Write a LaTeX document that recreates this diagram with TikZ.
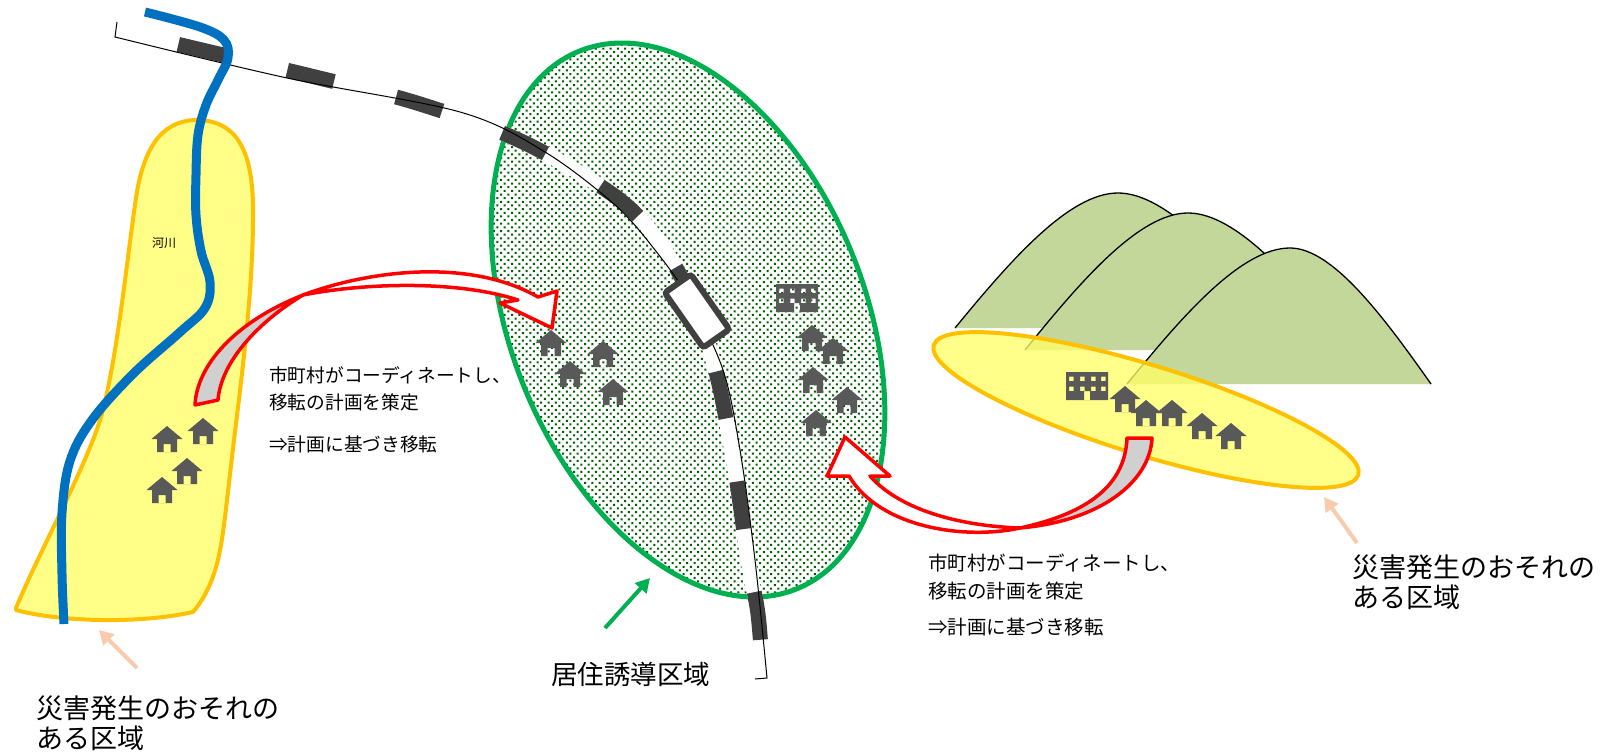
\documentclass[tikz,border=0pt]{standalone}
\usepackage{fontspec}
\setmainfont{Noto Sans CJK JP}
\usetikzlibrary{arrows.meta,patterns}

\definecolor{zonefill}{RGB}{255,255,136}
\definecolor{zonetint}{RGB}{255,255,102}
\definecolor{zoneline}{RGB}{255,192,0}
\definecolor{riverblue}{RGB}{0,112,192}
\definecolor{areagreen}{RGB}{0,176,80}
\definecolor{dotgreen}{RGB}{0,95,0}
\definecolor{railgray}{RGB}{64,64,64}
\definecolor{housegray}{RGB}{89,89,89}
\definecolor{hillgreen}{RGB}{196,215,155}
\definecolor{ribbongray}{RGB}{208,208,208}
\definecolor{pointerorange}{RGB}{248,203,173}

% fine dot screen for the residential area
\pgfdeclarepatternformonly{greendots}{\pgfqpoint{-1pt}{-1pt}}{\pgfqpoint{8pt}{8pt}}{\pgfqpoint{7.3pt}{7.3pt}}{%
  \pgfpathrectangle{\pgfqpoint{0pt}{0pt}}{\pgfqpoint{2pt}{2pt}}%
  \pgfpathrectangle{\pgfqpoint{3.65pt}{3.65pt}}{\pgfqpoint{2pt}{2pt}}%
  \pgfusepath{fill}}

\begin{document}
\begin{tikzpicture}[x=1pt, y=-1pt,
  zone/.style={fill=zonefill, draw=zoneline, line width=4pt, line join=round},
  ribbon/.style={draw=red, line width=3.5pt, line join=round},
  pointer/.style={line width=4pt, -{Triangle[length=14pt,width=15pt]}},
  railbed/.style={white, line width=15pt},
  railties/.style={railgray, line width=15pt, dash pattern=on 48pt off 64pt, dash phase=49pt},
  ridge/.style={draw=black, line width=1.3pt},
  note/.style={anchor=west, inner sep=0pt, font=\fontsize{18.7}{21}\selectfont},
  notewide/.style={anchor=west, inner sep=0pt, font=\fontsize{19.5}{22}\selectfont},
  risk/.style={anchor=west, inner sep=0pt, font=\fontsize{27}{30}\selectfont},
  house/.pic={
    \fill[housegray] (-15.5,13) -- (0,0) -- (15.5,13) -- cycle;
    \fill[housegray, even odd rule] (-10,12) rectangle (10,26) (-3.5,18) rectangle (3.5,26);
  },
  building/.pic={
    \fill[housegray, even odd rule] (0,0) rectangle (42,28)
      \foreach \wx/\wy in {3/4.5, 14/4.5, 25/4.5, 35/4.5, 3/14.5, 14/14.5, 25/14.5, 35/14.5} {(\wx,\wy) rectangle ++(4.5,4.5)}
      (18,19) rectangle (24,28);
  }]
  \useasboundingbox (0,0) rectangle (1608,754);

  % residential area
  \draw[pattern=greendots, pattern color=dotgreen, draw=areagreen, line width=5pt,
    rotate around={22:(688,320)}] (688,320) ellipse [x radius=177, y radius=290];

  % railway
  \foreach \look in {railbed, railties}
    \draw[\look] plot[smooth, tension=0.55] coordinates {(117,30) (311,76) (420,104) (525,143) (620,200) (666,252) (697,311) (718,380) (735,470) (748,560) (758,614) (763,679)};
  \draw[line width=1pt] (117,22) -- plot[smooth, tension=0.55] coordinates {(115,37) (287,78) (460,112) (545,152) (615,205) (655,250) (690,300) (723,370) (740,450) (755,560) (767,678)} -- (755,679);
  \node[draw=railgray, line width=6pt, fill=white, rounded corners=3pt,
    minimum width=67pt, minimum height=32pt, rotate=-55] (station) at (697,311) {};

  % hazard zone along the river
  \draw[zone] (16,608) .. controls (40,550) and (90,460) .. (103,410)
    .. controls (118,350) and (127,260) .. (135,205)
    .. controls (142,150) and (160,121) .. (196,120)
    .. controls (235,120) and (252,148) .. (253,205)
    .. controls (254,300) and (238,400) .. (228,492)
    .. controls (222,540) and (220,580) .. (193,612)
    .. controls (140,624) and (60,622) .. (16,610) -- cycle;
  \draw[riverblue, line width=9pt] plot[smooth, tension=0.6] coordinates {(145,12) (200,27) (224,40) (228,58) (218,80) (206,105) (198,135) (196,175) (196,215) (201,251) (210,282) (205,308) (179,333) (133,374) (92,420) (70,461) (62,513) (62,574) (64,624)};
  \node[inner sep=0pt, font=\fontsize{12}{14}\selectfont] (river) at (164,243) {河川};

  % houses
  \foreach \hx/\hy in {167/426, 203/418, 187/458, 162/477,
                       551/330, 570/361, 603/341, 613/379,
                       812/325, 833/338, 813/367, 847/387, 816/410}
    \pic at (\hx,\hy) {house};
  \pic at (776,284) {building};

  % hills
  \foreach \fx/\by/\px/\py/\rx in {955/328/1118/193/1281, 1025/350/1188/213/1351, 1127/384/1290/248/1431} {
    \fill[hillgreen] (\fx,\by) .. controls ({\fx+0.34*(\px-\fx)},{\by-0.5*(\by-\py)}) and ({\px-0.3*(\px-\fx)},\py) .. (\px,\py)
      .. controls ({\px+0.3*(\rx-\px)},\py) and ({\rx-0.34*(\rx-\px)},{\by-0.5*(\by-\py)}) .. (\rx,\by) -- cycle;
    \draw[ridge] (\fx,\by) .. controls ({\fx+0.34*(\px-\fx)},{\by-0.5*(\by-\py)}) and ({\px-0.3*(\px-\fx)},\py) .. (\px,\py)
      .. controls ({\px+0.3*(\rx-\px)},\py) and ({\rx-0.34*(\rx-\px)},{\by-0.5*(\by-\py)}) .. (\rx,\by);
  }

  % hazard zone at the foot of the hills
  \draw[zone, fill=zonetint, fill opacity=0.77, rotate around={-17:(1146,410)}] (1146,410) ellipse [x radius=222, y radius=45];
  \pic at (1066,372) {building};
  \foreach \hx/\hy in {1125/386, 1146/400, 1172/400, 1202/413, 1231/423}
    \pic at (\hx,\hy) {house};

  % relocation ribbons
  \filldraw[ribbon, fill=ribbongray] (195,405) .. controls (197,365) and (235,322) .. (303,295)
    .. controls (258,322) and (221,362) .. (218,400) -- cycle;
  \filldraw[ribbon, fill=white] (303,295) .. controls (370,270) and (470,258) .. (538,297)
    -- (557,291) -- (552,328) -- (500,303) -- (518,300)
    .. controls (460,281) and (370,282) .. (303,295) -- cycle;
  \filldraw[ribbon, fill=ribbongray] (1020,528) .. controls (1100,521) and (1150,482) .. (1152,438)
    -- (1127,438) .. controls (1125,490) and (1080,515) .. (1020,528) -- cycle;
  \filldraw[ribbon, fill=white] (849,476) -- (827,476) -- (845,437) -- (890,476) -- (870,476)
    .. controls (900,510) and (960,526) .. (1020,528)
    .. controls (965,540) and (880,528) .. (849,476) -- cycle;

  % texts
  \node[note] (planA1) at (269,375) {市町村がコーディネートし、};
  \node[note] (planA2) at (269,402) {移転の計画を策定};
  \node[note] (planA3) at (269,444) {⇒計画に基づき移転};
  \node[notewide] (planB1) at (928,563) {市町村がコーディネートし、};
  \node[notewide] (planB2) at (928,591) {移転の計画を策定};
  \node[notewide] (planB3) at (928,627) {⇒計画に基づき移転};
  \node[risk] (riskA1) at (36,708) {災害発生のおそれの};
  \node[risk] (riskA2) at (36,738) {ある区域};
  \node[risk] (riskB1) at (1352,567) {災害発生のおそれの};
  \node[risk] (riskB2) at (1352,597) {ある区域};
  \node[risk, font=\fontsize{26.5}{30}\selectfont] (living) at (551,674) {居住誘導区域};

  % pointers
  \coordinate (riskAfrom) at (137,668);
  \coordinate (riskAto) at (99,630);
  \coordinate (riskBfrom) at (1357,543);
  \coordinate (riskBto) at (1324,497);
  \coordinate (livingfrom) at (605,628);
  \coordinate (livingto) at (650,578);
  \draw[pointer, pointerorange] (riskAfrom) -- (riskAto);
  \draw[pointer, pointerorange] (riskBfrom) -- (riskBto);
  \draw[pointer, areagreen] (livingfrom) -- (livingto);
\end{tikzpicture}
\end{document}
